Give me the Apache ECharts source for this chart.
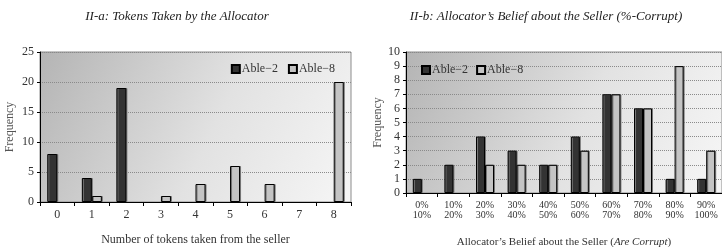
<!DOCTYPE html>
<html>
<head>
<meta charset="utf-8">
<script src="https://cdn.jsdelivr.net/npm/echarts@6/dist/echarts.min.js"></script>
<style>
  html, body { margin: 0; padding: 0; background: #fff; }
  #chart { width: 722px; height: 247px; }
</style>
</head>
<body>
<div id="chart"></div>
<script>
  // 左图：分配者拿走的代币数
  var tokenCats = ['0', '1', '2', '3', '4', '5', '6', '7', '8'];
  var tokenAble2 = [8, 4, 19, null, null, null, null, null, null];
  var tokenAble8 = [null, 1, null, 1, 3, 6, 3, null, 20];

  // 右图：对卖家的信念 (%-Corrupt)
  var beliefCats = ['0%\n10%', '10%\n20%', '20%\n30%', '30%\n40%', '40%\n50%',
                    '50%\n60%', '60%\n70%', '70%\n80%', '80%\n90%', '90%\n100%'];
  var beliefAble2 = [1, 2, 4, 3, 2, 4, 7, 6, 1, 1];
  var beliefAble8 = [null, null, 2, 2, 2, 3, 7, 6, 9, 3];

  var serif = 'Liberation Serif';
  var textColor = '#333';

  var chart = echarts.init(document.getElementById('chart'));

  function plotBg() {
    return new echarts.graphic.LinearGradient(0, 0, 1, 1, [
      { offset: 0, color: '#b4b4b4' },
      { offset: 0.55, color: '#e2e2e2' },
      { offset: 1, color: '#f6f6f6' }
    ]);
  }

  var darkStyle = {
    color: '#333333', borderColor: '#000', borderWidth: 1,
    shadowColor: '#777', shadowOffsetX: 1, shadowBlur: 0
  };
  var lightStyle = {
    color: '#c4c4c4', borderColor: '#000', borderWidth: 1,
    shadowColor: '#777', shadowOffsetX: 1, shadowBlur: 0
  };

  function xAxisCommon(idx, cats, fontSize, margin) {
    return {
      type: 'category',
      gridIndex: idx,
      data: cats,
      axisLine: { lineStyle: { color: '#000', width: 1 } },
      axisTick: { show: true, length: 4, lineStyle: { color: '#000' } },
      axisLabel: { color: textColor, fontFamily: serif, fontSize: fontSize, margin: margin, lineHeight: 10 },
      nameLocation: 'middle',
      nameTextStyle: { color: textColor, fontFamily: serif, fontSize: 12 }
    };
  }

  function yAxisCommon(idx, max, interval, gap) {
    return {
      type: 'value',
      gridIndex: idx,
      min: 0, max: max, interval: interval,
      name: 'Frequency',
      nameLocation: 'middle',
      nameRotate: 90,
      nameGap: gap,
      nameTextStyle: { color: '#555', fontFamily: serif, fontSize: 12 },
      axisLine: { show: true, lineStyle: { color: '#000' } },
      axisTick: { show: true, length: 3, lineStyle: { color: '#000' } },
      axisLabel: { color: textColor, fontFamily: serif, fontSize: 12, margin: 6 },
      splitLine: { show: true, lineStyle: { color: '#8a8a8a', type: 'dotted', width: 1 } }
    };
  }

  var option = {
    animation: false,
    title: [
      {
        text: 'II-a: Tokens Taken by the Allocator',
        left: 172, top: 5, textAlign: 'center',
        textStyle: { fontFamily: serif, fontStyle: 'italic', fontWeight: 'normal', fontSize: 13, color: '#222' }
      },
      {
        text: 'II-b: Allocator\u2019s Belief about the Seller (%-Corrupt)',
        left: 541, top: 5, textAlign: 'center',
        textStyle: { fontFamily: serif, fontStyle: 'italic', fontWeight: 'normal', fontSize: 13, color: '#222' }
      }
    ],
    legend: [
      {
        data: ['Able\u22122', 'Able\u22128'],
        right: 382, top: 58, itemWidth: 8, itemHeight: 8, itemGap: 10,
        icon: 'rect',
        textStyle: { fontFamily: serif, fontSize: 12, color: textColor, padding: [0, 0, 0, -3] }
      },
      {
        data: ['Able\u22122', 'Able\u22128'],
        left: 416, top: 59, itemWidth: 8, itemHeight: 8, itemGap: 8,
        icon: 'rect',
        textStyle: { fontFamily: serif, fontSize: 12, color: textColor, padding: [0, 0, 0, -3] }
      }
    ],
    grid: [
      { left: 40, top: 52, width: 311, height: 150, outerBoundsMode: 'none', show: true, backgroundColor: plotBg(), borderColor: '#8c8c8c', borderWidth: 1 },
      { left: 406, top: 52, width: 316, height: 141, outerBoundsMode: 'none', show: true, backgroundColor: plotBg(), borderColor: '#8c8c8c', borderWidth: 1 }
    ],
    xAxis: [
      Object.assign(xAxisCommon(0, tokenCats, 12, 8), { name: 'Number of tokens taken from the seller', nameGap: 32 }),
      Object.assign(xAxisCommon(1, beliefCats, 10, 7), {
        name: 'Allocator\u2019s Belief about the Seller ({i|Are Corrupt})',
        nameGap: 44,
        nameTextStyle: {
          color: textColor, fontFamily: serif, fontSize: 11,
          rich: { i: { fontStyle: 'italic', fontFamily: serif, fontSize: 11, color: textColor } }
        }
      })
    ],
    yAxis: [
      yAxisCommon(0, 25, 5, 24),
      yAxisCommon(1, 10, 1, 21)
    ],
    series: [
      { name: 'Able\u22122', type: 'bar', xAxisIndex: 0, yAxisIndex: 0, data: tokenAble2, barWidth: 10, barGap: '0%', itemStyle: darkStyle },
      { name: 'Able\u22128', type: 'bar', xAxisIndex: 0, yAxisIndex: 0, data: tokenAble8, barWidth: 10, barGap: '0%', itemStyle: lightStyle },
      { name: 'Able\u22122', type: 'bar', xAxisIndex: 1, yAxisIndex: 1, data: beliefAble2, barWidth: 9, barGap: '0%', itemStyle: darkStyle },
      { name: 'Able\u22128', type: 'bar', xAxisIndex: 1, yAxisIndex: 1, data: beliefAble8, barWidth: 9, barGap: '0%', itemStyle: lightStyle }
    ]
  };

  chart.setOption(option);
</script>
</body>
</html>
